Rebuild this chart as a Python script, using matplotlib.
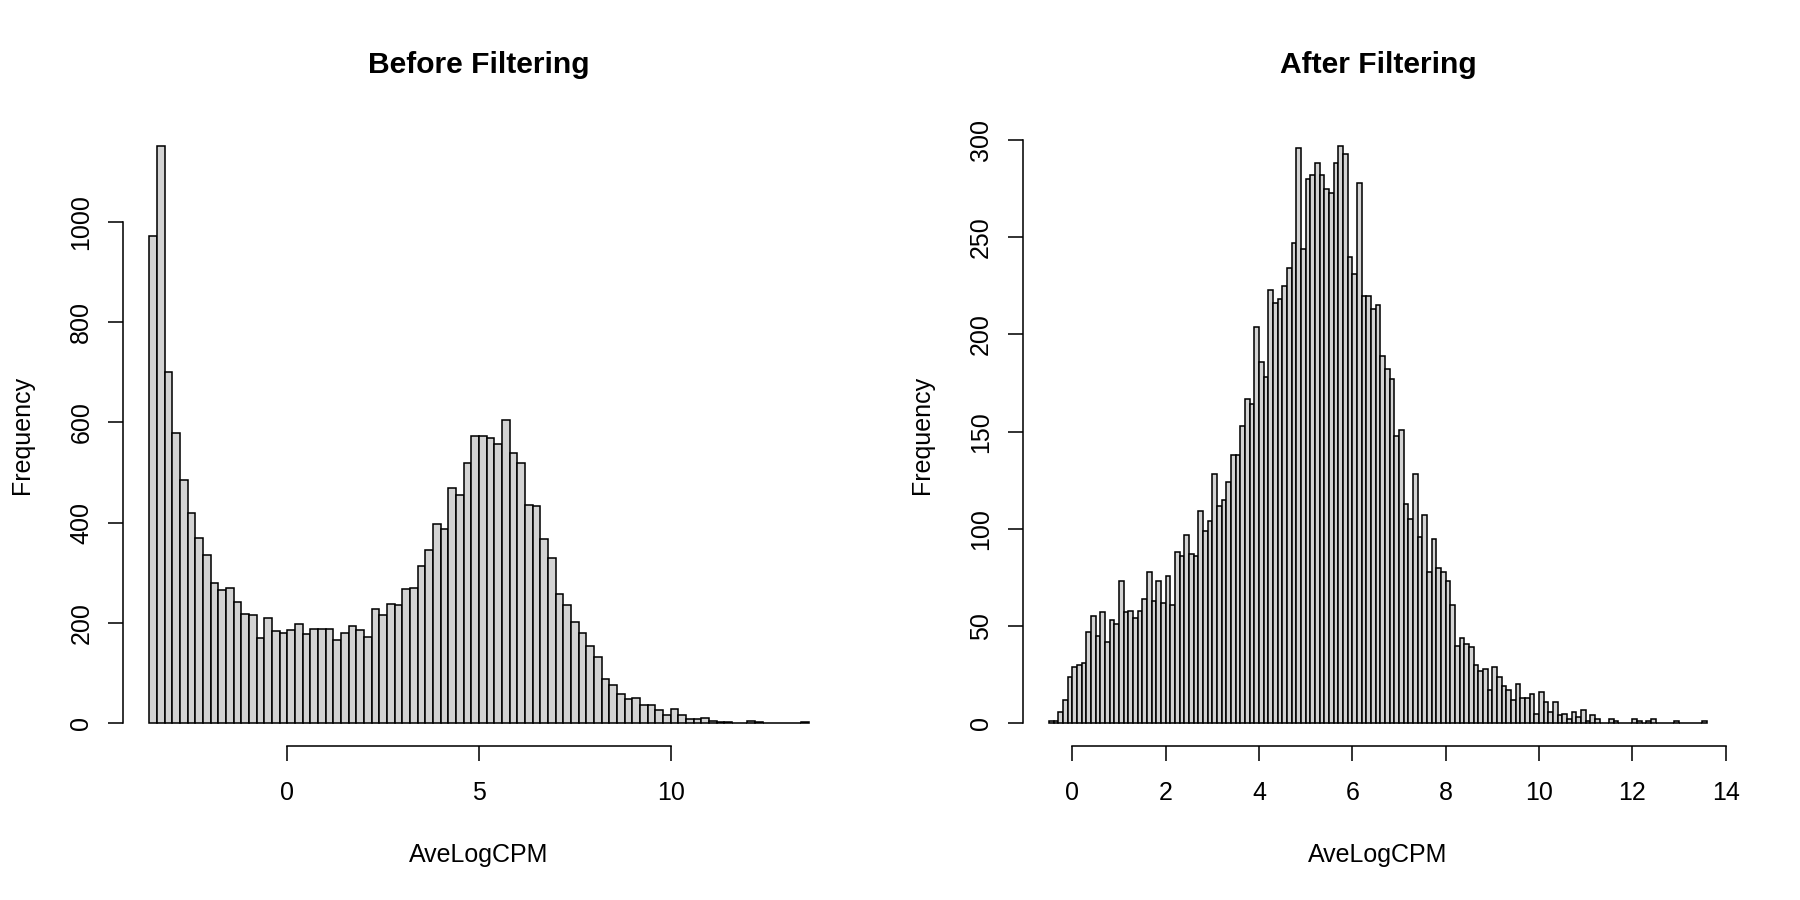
import numpy as np
import matplotlib
matplotlib.use("Agg")
import matplotlib.pyplot as plt

plt.rcParams['font.family'] = ['Liberation Sans', 'DejaVu Sans']

# Histogramme AveLogCPM avant filtrage (classes de 0.2, debut -3.6)
avant_debut = -3.6
avant_pas = 0.2
avant_counts = [
    972, 1151, 701, 578, 484, 419, 370, 336, 280, 265,
    270, 241, 218, 215, 169, 210, 184, 180, 186, 198,
    178, 187, 188, 188, 166, 180, 194, 186, 172, 228,
    216, 238, 235, 268, 270, 314, 346, 397, 388, 468,
    455, 518, 573, 573, 569, 557, 604, 538, 518, 436,
    434, 368, 329, 258, 236, 201, 180, 155, 133, 88,
    77, 58, 48, 50, 36, 36, 26, 17, 28, 17,
    8, 8, 11, 5, 2, 2, 1, 0, 4, 2,
    1, 0, 1, 0, 0, 2,
]

# Histogramme apres filtrage (classes de 0.1, debut -0.5)
apres_debut = -0.5
apres_pas = 0.1
apres_counts = [
    1, 1, 6, 12, 24, 29, 30, 31, 47, 55,
    45, 57, 42, 53, 51, 73, 57, 58, 54, 58,
    64, 78, 63, 73, 62, 76, 61, 88, 86, 97,
    87, 86, 109, 99, 104, 128, 112, 115, 124, 138,
    138, 153, 167, 164, 204, 186, 178, 223, 216, 218,
    225, 234, 247, 296, 244, 280, 282, 288, 282, 275,
    273, 288, 297, 293, 240, 231, 278, 220, 220, 213,
    215, 189, 182, 177, 148, 151, 113, 105, 128, 96,
    107, 78, 95, 80, 78, 73, 61, 40, 44, 41,
    39, 30, 27, 28, 17, 29, 24, 19, 17, 12,
    20, 13, 13, 15, 5, 16, 11, 6, 11, 4,
    5, 2, 6, 3, 7, 1, 4, 2, 0, 0,
    2, 1, 0, 0, 0, 2, 1, 0, 1, 2,
    0, 0, 0, 0, 1, 0, 0, 0, 0, 0,
    1,
]

avant_xticks = [0, 5, 10]
avant_yticks = [0, 200, 400, 600, 800, 1000]
apres_xticks = [0, 2, 4, 6, 8, 10, 12, 14]
apres_yticks = [0, 50, 100, 150, 200, 250, 300]


def histo(ax, debut, pas, counts, xticks, yticks, titre):
    """Dibuja un histograma estilo R base."""
    counts = np.array(counts)
    bords = debut + pas * np.arange(len(counts))
    ax.bar(bords, counts, width=pas, align='edge', color='#d3d3d3',
           edgecolor='black', linewidth=0.75)

    # rangos como R (4% de cada lado)
    xmin, xmax = bords[0], bords[-1] + pas
    dx = 0.04 * (xmax - xmin)
    ax.set_xlim(xmin - dx, xmax + dx)
    ymax = counts.max()
    ax.set_ylim(-0.04 * ymax, 1.04 * ymax)

    for s in ['top', 'right']:
        ax.spines[s].set_visible(False)
    ax.spines['bottom'].set_bounds(xticks[0], xticks[-1])
    ax.spines['left'].set_bounds(yticks[0], yticks[-1])
    ax.spines['bottom'].set_linewidth(0.75)
    ax.spines['left'].set_linewidth(0.75)

    ax.set_xticks(xticks)
    ax.set_yticks(yticks)
    ax.tick_params(length=7.2, width=0.75, labelsize=12)
    ax.tick_params(axis='x', pad=9.5)
    ax.tick_params(axis='y', pad=7)
    for t in ax.get_yticklabels():
        t.set_rotation(90)
        t.set_va('center')

    ax.set_xlabel('AveLogCPM', fontsize=12, labelpad=18)
    ax.set_ylabel('Frequency', fontsize=12, labelpad=17)
    ax.set_title(titre, fontsize=14.4, fontweight='bold', pad=23.7)


fig = plt.figure(figsize=(12, 6), dpi=150)
ax1 = fig.add_axes([0.0683, 0.1707, 0.3956, 0.6929])
ax2 = fig.add_axes([0.5681, 0.1707, 0.3949, 0.6929])

histo(ax1, avant_debut, avant_pas, avant_counts, avant_xticks, avant_yticks,
      'Before Filtering')
histo(ax2, apres_debut, apres_pas, apres_counts, apres_xticks, apres_yticks,
      'After Filtering')

fig.savefig('out.png', dpi=150)
